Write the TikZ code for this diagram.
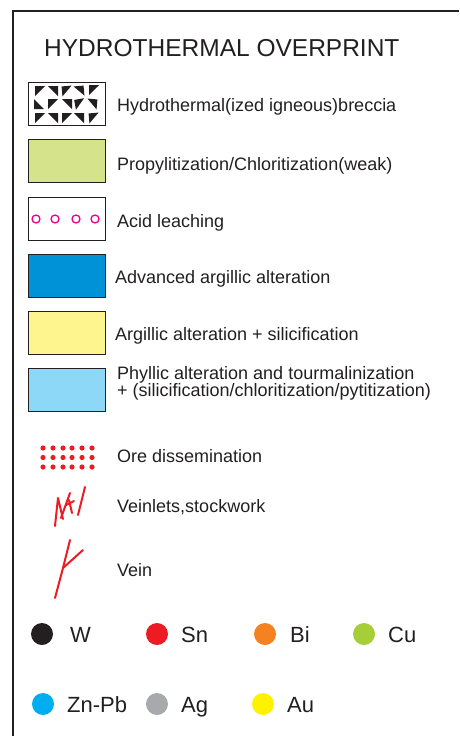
\documentclass[tikz,border=0pt]{standalone}
\usepackage{fontspec}
\setmainfont{Liberation Sans}
\usepackage{tikz}
\usetikzlibrary{positioning}
\definecolor{inkgray}{HTML}{231F20}
\definecolor{propgreen}{HTML}{D5E38B}
\definecolor{advblue}{HTML}{0092D7}
\definecolor{argyellow}{HTML}{FFF58E}
\definecolor{phylblue}{HTML}{8ED8F7}
\definecolor{acidpink}{HTML}{EC008C}
\definecolor{orered}{HTML}{ED1C24}
\definecolor{bicolor}{HTML}{F58220}
\definecolor{cucolor}{HTML}{A6CE39}
\definecolor{znpbcolor}{HTML}{00AEEF}
\definecolor{agcolor}{HTML}{A7A9AC}
\definecolor{aucolor}{HTML}{FFF200}
\tikzset{
  swatch/.style={draw=inkgray, line width=1.3pt, minimum width=77pt, minimum height=43pt, inner sep=0pt},
  legtext/.style={anchor=base west, inner sep=0pt, text=inkgray, font=\fontsize{18}{17}\selectfont},
  eldot/.style={circle, inner sep=0pt, minimum size=22pt},
  eltext/.style={anchor=base west, inner sep=0pt, text=inkgray, font=\fontsize{22}{24}\selectfont},
  vein/.style={orered, line width=2pt, line cap=round, line join=round}
}
\newcommand{\brtri}[3]{\fill[inkgray, shift={(#1,#2)}, rotate=#3] (-5,-5) -- (5,-5) -- (-5,5) -- cycle;}

\begin{document}
\begin{tikzpicture}[x=1pt, y=-1pt]
 \useasboundingbox (0,0) rectangle (459,736);
 \draw[inkgray, line width=2pt] (13,736) -- (13,11) -- (459,11);

 \node[anchor=base west, inner sep=0pt, text=inkgray, font=\fontsize{24.5}{28}\selectfont] (title) at (44,56) {HYDROTHERMAL OVERPRINT};

 % alteration swatches
 \node[swatch]                 (breccia) at (67,104) {};
 \node[swatch, fill=propgreen] (prop)    at (67,161) {};
 \node[swatch]                 (acid)    at (67,219) {};
 \node[swatch, fill=advblue]   (adv)     at (67,276) {};
 \node[swatch, fill=argyellow] (arg)     at (67,333) {};
 \node[swatch, fill=phylblue]  (phyl)    at (67,390) {};

 \brtri{40}{91}{0}   \brtri{53}{91}{-90} \brtri{67}{91}{5}  \brtri{79}{91}{-85} \brtri{94}{90}{0}
 \brtri{39}{104}{90} \brtri{53}{104}{0}  \brtri{67}{104}{-90} \brtri{80}{104}{10} \brtri{92}{104}{-95}
 \brtri{40}{118}{0}  \brtri{53}{118}{-90} \brtri{67}{118}{0} \brtri{79}{118}{-90} \brtri{94}{118}{5}

 \foreach \x in {36,55,76,95}
  \draw[acidpink, line width=1.3pt] (\x,219) circle (4);

 \node[legtext] (brecciatxt) at (117,111) {Hydrothermal(ized igneous)breccia};
 \node[legtext] (proptxt)    at (117,170) {Propylitization/Chloritization(weak)};
 \node[legtext] (acidtxt)    at (117,227) {Acid leaching};
 \node[legtext] (advtxt)     at (115,283) {Advanced argillic alteration};
 \node[legtext] (argtxt)     at (115,340) {Argillic alteration + silicification};
 \node[legtext, align=left] (phyltxt) at (117,396) {Phyllic alteration and tourmalinization\\+ (silicification/chloritization/pytitization)};

 % mineralisation symbols
 \foreach \x in {43,53,63,72,82,92}
  \foreach \y in {448,457.5,467}
   \fill[orered] (\x,\y) circle (2.6);
 \node[legtext] (oretxt) at (117,462) {Ore dissemination};

 \coordinate (vl1) at (55,526);
 \coordinate (vl2) at (58,498);
 \coordinate (vl3) at (63,519);
 \coordinate (vl4) at (70,493);
 \draw[vein] (vl1) -- (vl2) -- (vl3);
 \draw[vein] (61,518) -- (vl4);
 \draw[vein] (66,505) -- (74,501);
 \draw[vein] (69,500) -- (72,513);
 \draw[vein] (78,515) -- (85,487);
 \node[legtext] (veinlettxt) at (117,512) {Veinlets,stockwork};

 \coordinate (vn1) at (55,598);
 \coordinate (vn2) at (63,568);
 \coordinate (vn3) at (70,540);
 \coordinate (vn4) at (83,550);
 \draw[vein] (vn1) -- (vn2) -- (vn3);
 \draw[vein] (vn2) -- (vn4);
 \node[legtext] (veintxt) at (117,576) {Vein};

 % elements
 \node[eldot, fill=inkgray]   (w)    at (42,634) {};
 \node[eldot, fill=orered]    (sn)   at (157,634) {};
 \node[eldot, fill=bicolor]   (bi)   at (265,634) {};
 \node[eldot, fill=cucolor]   (cu)   at (364,634) {};
 \node[eldot, fill=znpbcolor] (znpb) at (43,704) {};
 \node[eldot, fill=agcolor]   (ag)   at (157,704) {};
 \node[eldot, fill=aucolor]   (au)   at (263,704) {};

 \node[eltext] (wtxt)    at (70,642)  {W};
 \node[eltext] (sntxt)   at (181,642) {Sn};
 \node[eltext] (bitxt)   at (290,642) {Bi};
 \node[eltext] (cutxt)   at (388,642) {Cu};
 \node[eltext] (znpbtxt) at (67,712)  {Zn-Pb};
 \node[eltext] (agtxt)   at (181,712) {Ag};
 \node[eltext] (autxt)   at (287,712) {Au};
\end{tikzpicture}
\end{document}
